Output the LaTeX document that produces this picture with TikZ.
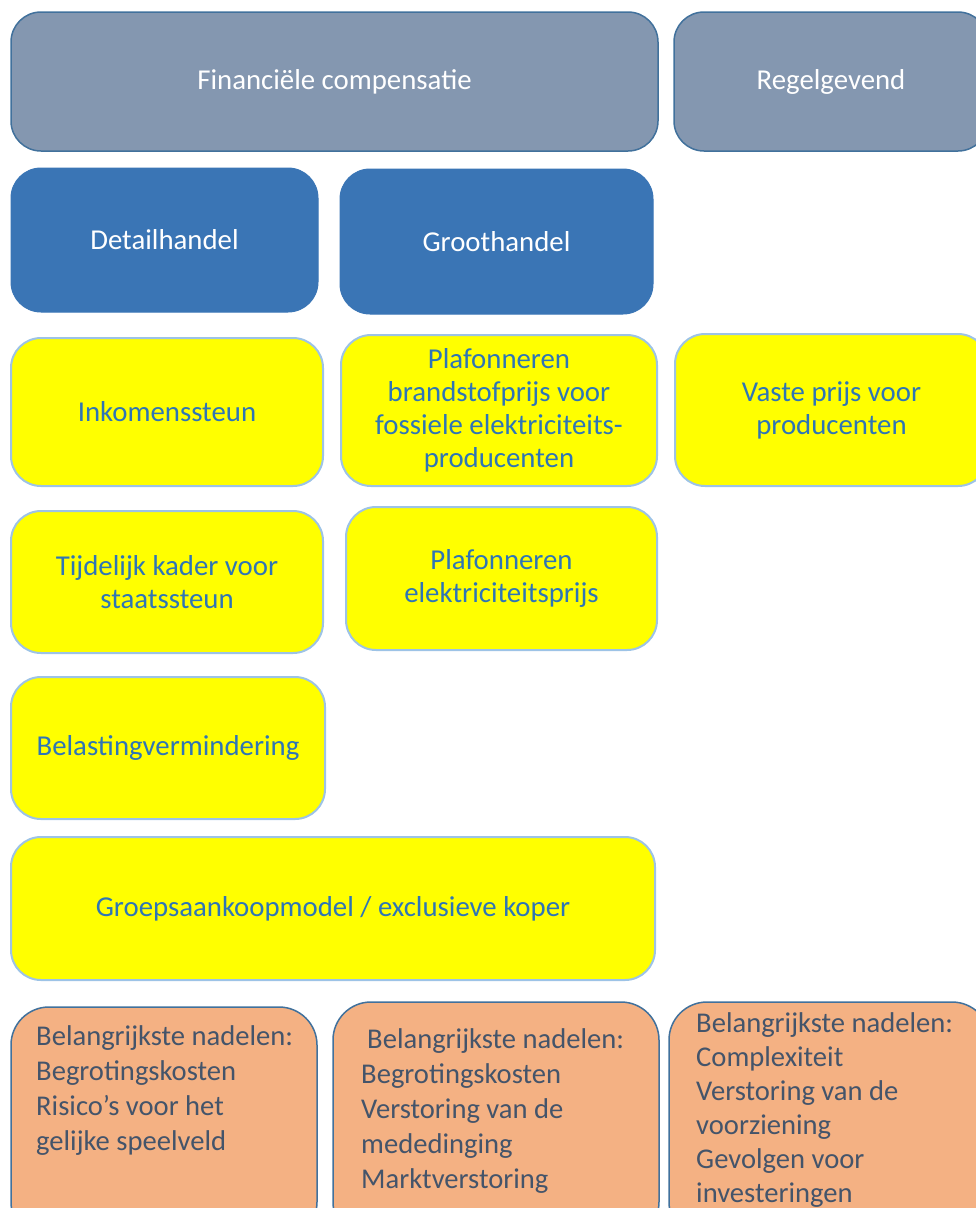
\documentclass[tikz,border=0pt]{standalone}
\usepackage{fontspec}
\setmainfont{Carlito}
\definecolor{slate}{HTML}{8497B0}
\definecolor{edgeblue}{HTML}{41719C}
\definecolor{midblue}{HTML}{3A75B5}
\definecolor{ylw}{HTML}{FFFF00}
\definecolor{ylwedge}{HTML}{9DC3E6}
\definecolor{ylwtxt}{HTML}{2E75B6}
\definecolor{peach}{HTML}{F4B183}
\definecolor{grytxt}{HTML}{44546A}
\newcommand{\toplines}[1]{\begin{tabular}[t]{@{}l@{}}#1\end{tabular}}
\begin{document}
\begin{tikzpicture}[x=1pt,y=-1pt,
  basebox/.style={rounded corners=30pt, inner sep=0pt, outer sep=0pt, align=center,
    font=\fontsize{28.8}{33}\selectfont},
  graybox/.style={basebox, fill=slate, draw=edgeblue, line width=1.5pt, text=white},
  bluebox/.style={basebox, fill=midblue, draw=midblue, line width=1pt, text=white},
  ylwbox/.style={basebox, fill=ylw, draw=ylwedge, line width=2pt, text=ylwtxt},
  peachbox/.style={basebox, rounded corners=38pt, fill=peach, draw=edgeblue, line width=1.5pt},
  peachlines/.style={anchor=base west, inner sep=0pt, text=grytxt,
    font=\fontsize{28.6}{35}\selectfont}]
\useasboundingbox (0,0) rectangle (976,1208);
\clip (0,0) rectangle (976,1208);
% top row
\node[graybox, minimum width=647pt, minimum height=139pt] (fin) at (334.5,81.5) {Financiële compensatie};
\node[graybox, minimum width=314pt, minimum height=139pt] (reg) at (831,81.5) {Regelgevend};
% blue row
\node[bluebox, minimum width=307pt, minimum height=144pt] (det) at (164.5,240) {Detailhandel};
\node[bluebox, minimum width=313pt, minimum height=145pt] (gro) at (496.5,241.5) {Groothandel};
% yellow boxes
\node[ylwbox, minimum width=312pt, minimum height=148pt] (ink) at (167,412) {Inkomenssteun};
\node[ylwbox, minimum width=316pt, minimum height=151pt] (pbr) at (499,410.5) {Plafonneren\\brandstofprijs voor\\fossiele elektriciteits-\\producenten};
\node[ylwbox, minimum width=313pt, minimum height=152pt] (vas) at (831.5,410) {Vaste prijs voor\\producenten};
\node[ylwbox, minimum width=312pt, minimum height=142pt] (tij) at (167,582) {Tijdelijk kader voor\\staatssteun};
\node[ylwbox, minimum width=311pt, minimum height=143pt] (pel) at (501.5,578.5) {Plafonneren\\elektriciteitsprijs};
\node[ylwbox, minimum width=314pt, minimum height=142pt] (bel) at (168,748) {Belastingvermindering};
\node[ylwbox, minimum width=644pt, minimum height=143pt] (grp) at (333,908.5) {Groepsaankoopmodel / exclusieve koper};
% peach boxes
\node[peachbox, minimum width=306pt, minimum height=233pt] (or1) at (164,1123.5) {};
\node[peachbox, minimum width=326pt, minimum height=238pt] (or2) at (496,1121) {};
\node[peachbox, minimum width=321pt, minimum height=238pt] (or3) at (829.5,1121) {};
\node[peachlines] (ot1) at (36,1045) {\toplines{Belangrijkste nadelen:\\Begrotingskosten\\Risico’s voor het\\gelijke speelveld}};
\node[peachlines] (ot2) at (361,1048) {\toplines{\hspace*{6pt}Belangrijkste nadelen:\\Begrotingskosten\\Verstoring van de\\mededinging\\Marktverstoring}};
\node[peachlines, font=\fontsize{28.6}{34}\selectfont] (ot3) at (696,1032) {\toplines{Belangrijkste nadelen:\\Complexiteit\\Verstoring van de\\voorziening\\Gevolgen voor\\investeringen}};
\end{tikzpicture}
\end{document}
